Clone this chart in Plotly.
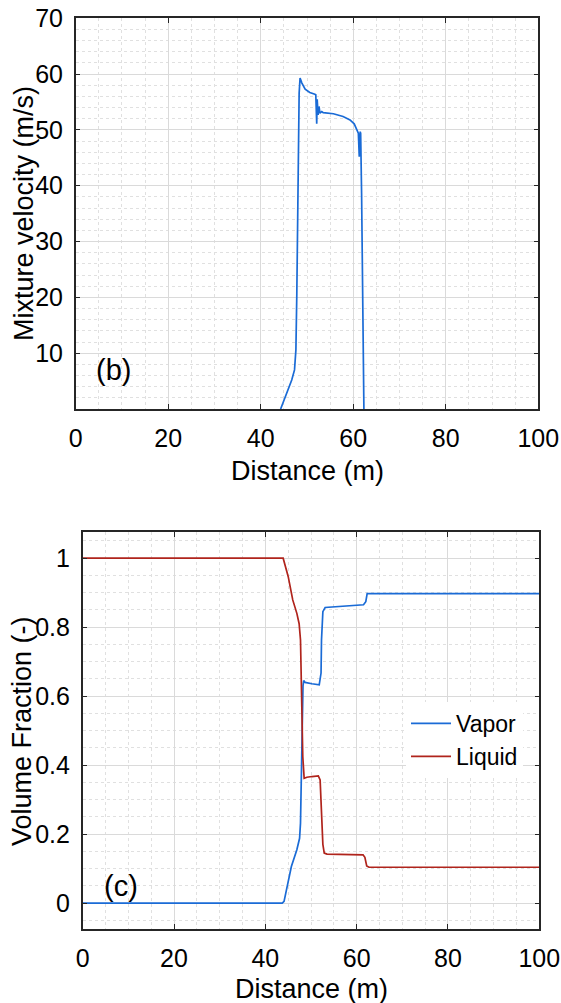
import plotly.graph_objects as go

# ---------------- data ----------------
# (b) mixture velocity vs distance
vel_x = [44.3, 45.6, 46.7, 47.3, 47.6, 47.8, 48.0, 48.1, 48.3, 48.5, 48.9, 49.6, 50.6,
         51.7, 51.9, 52.1, 52.2, 52.4, 52.6, 52.8, 53.2, 53.5, 55.7, 57.8, 59.3, 60.2,
         60.7, 60.9, 61.1, 61.3, 61.5, 61.6, 61.8, 62.0, 62.3]
vel_y = [0, 2.8, 5.2, 7.0, 10.6, 20.7, 38.6, 48.0, 56.6, 59.3, 58.4, 57.3, 56.7,
         56.4, 56.3, 51.1, 55.5, 52.7, 54.2, 53.0, 53.3, 53.1, 52.9, 52.4, 51.8, 51.1,
         50.3, 50.0, 49.4, 45.2, 49.7, 49.4, 38.7, 20.7, 0]

# (c) volume fractions vs distance
vap_x = [0, 43.7, 44.1, 44.9, 45.7, 46.9, 47.5, 47.7, 47.8, 47.95, 48.1, 48.25, 48.4, 48.7,
         50.2, 51.6, 51.8, 52.2, 52.3, 52.6, 53.1, 61.5, 62.0, 62.3, 62.9, 100]
vap_y = [0, 0, 0.005, 0.058, 0.106, 0.155, 0.188, 0.232, 0.30, 0.45, 0.57, 0.63, 0.645, 0.64,
         0.636, 0.633, 0.633, 0.667, 0.763, 0.845, 0.857, 0.865, 0.874, 0.897, 0.897, 0.897]

liq_x = [0, 43.9, 45.0, 46.0, 46.9, 47.4, 47.7, 48.0, 48.2, 48.5, 49.1, 50.2, 51.6,
         52.0, 52.2, 52.4, 52.6, 52.9, 53.5, 61.4, 61.8, 62.2, 62.7, 100]
liq_y = [1.0, 1.0, 0.947, 0.879, 0.84, 0.81, 0.763, 0.57, 0.425, 0.362, 0.365, 0.367, 0.369,
         0.357, 0.30, 0.222, 0.17, 0.145, 0.142, 0.14, 0.133, 0.108, 0.104, 0.104]

x_ticks = [0, 20, 40, 60, 80, 100]
vel_ticks = [10, 20, 30, 40, 50, 60, 70]
vf_ticks = [0, 0.2, 0.4, 0.6, 0.8, 1]
vf_labels = ["0", "0.2", "0.4", "0.6", "0.8", "1"]

# ---------------- layout ----------------
W, H = 561, 1003
BLUE = "#1A6BD6"
RED = "#B0241C"
FONT = "Liberation Sans, Arial, sans-serif"
AX = "#262626"


def px_x(p):
    return p / W


def px_y(p):
    return 1 - p / H


fig = go.Figure()
fig.add_trace(go.Scatter(x=vel_x, y=vel_y, mode="lines", line=dict(color=BLUE, width=1.7),
                         xaxis="x", yaxis="y", showlegend=False))
fig.add_trace(go.Scatter(x=vap_x, y=vap_y, mode="lines", name="Vapor",
                         line=dict(color=BLUE, width=1.7), xaxis="x2", yaxis="y2"))
fig.add_trace(go.Scatter(x=liq_x, y=liq_y, mode="lines", name="Liquid",
                         line=dict(color=RED, width=1.7), xaxis="x2", yaxis="y2"))

common = dict(showline=True, linecolor=AX, linewidth=1.5, mirror="ticks",
              ticks="inside", ticklen=5, tickcolor=AX, tickwidth=1,
              showgrid=True, gridcolor="#dadada", gridwidth=1, zeroline=False,
              tickfont=dict(family=FONT, size=25, color="#000000"),
              ticklabelstandoff=6)
minor_x = dict(dtick=5, showgrid=True, gridcolor="#e0e0e0", griddash="dot", ticks="")

fig.update_layout(
    width=W, height=H,
    margin=dict(l=0, r=0, t=0, b=0, autoexpand=False),
    paper_bgcolor="white", plot_bgcolor="white",
    xaxis=dict(domain=[px_x(75.7), px_x(538.3)], range=[0, 100], tickvals=x_ticks,
               anchor="y", minor=minor_x, **common),
    yaxis=dict(domain=[px_y(409), px_y(18.3)], range=[0, 70], tickvals=vel_ticks,
               anchor="x",
               minor=dict(dtick=2, showgrid=True, gridcolor="#e0e0e0", griddash="dot", ticks=""),
               **common),
    xaxis2=dict(domain=[px_x(82.7), px_x(539.3)], range=[0, 100], tickvals=x_ticks,
                anchor="y2", minor=minor_x, **common),
    yaxis2=dict(domain=[px_y(929), px_y(532.3)], range=[-0.075, 1.075], tickvals=vf_ticks,
                ticktext=vf_labels, anchor="x2",
                minor=dict(dtick=0.05, showgrid=True, gridcolor="#e0e0e0", griddash="dot", ticks=""),
                **common),
    legend=dict(x=px_x(406), y=px_y(702), xanchor="left", yanchor="top",
                bgcolor="white", borderwidth=0,
                font=dict(family=FONT, size=23, color="#000000"),
                itemwidth=40, tracegroupgap=0),
    showlegend=True,
)

ann_font = dict(family=FONT, size=27, color="#000000")
annotations = [
    dict(text="Mixture velocity (m/s)", x=px_x(24), y=px_y(214), textangle=-90),
    dict(text="Distance (m)", x=px_x(307), y=px_y(471)),
    dict(text="Volume Fraction (-)", x=px_x(22), y=px_y(731), textangle=-90),
    dict(text="Distance (m)", x=px_x(311), y=px_y(989)),
]
for a in annotations:
    fig.add_annotation(xref="paper", yref="paper", xanchor="center", yanchor="middle",
                       showarrow=False, font=ann_font, **a)

panel_font = dict(family=FONT, size=29, color="#000000")
fig.add_annotation(text="(b)", xref="paper", yref="paper", x=px_x(113), y=px_y(370),
                   showarrow=False, font=panel_font, xanchor="center", yanchor="middle")
fig.add_annotation(text="(c)", xref="paper", yref="paper", x=px_x(121), y=px_y(886),
                   showarrow=False, font=panel_font, xanchor="center", yanchor="middle")

fig.write_html(
    "out.html",
    config={"displayModeBar": False},
    post_script="document.body.style.margin='0';document.body.style.overflow='hidden';",
)
